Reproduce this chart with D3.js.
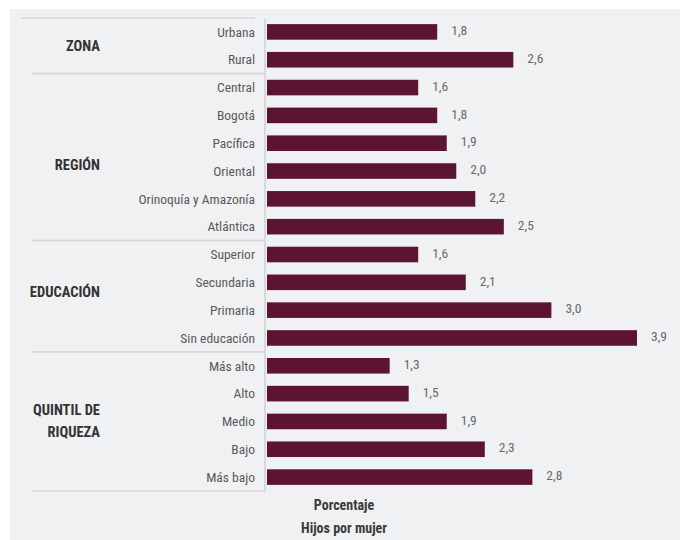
<!DOCTYPE html>
<html>
<head>
<meta charset="utf-8">
<script src="https://cdn.jsdelivr.net/npm/d3@7"></script>
<style>
  html, body { margin: 0; padding: 0; background: #ffffff; }
  svg { display: block; }
  text { font-family: "Liberation Sans Narrow", "Roboto Condensed", "DejaVu Sans Condensed", sans-serif; font-stretch: condensed; }
</style>
</head>
<body>
<svg id="chart" width="680" height="540"></svg>
<script>
const categories = ["Urbana", "Rural", "Central", "Bogotá", "Pacífica", "Oriental", "Orinoquía y Amazonía", "Atlántica",
  "Superior", "Secundaria", "Primaria", "Sin educación",
  "Más alto", "Alto", "Medio", "Bajo", "Más bajo"];
const values = [1.8, 2.6, 1.6, 1.8, 1.9, 2.0, 2.2, 2.5, 1.6, 2.1, 3.0, 3.9, 1.3, 1.5, 1.9, 2.3, 2.8];
const valueLabels = ["1,8", "2,6", "1,6", "1,8", "1,9", "2,0", "2,2", "2,5", "1,6", "2,1", "3,0", "3,9", "1,3", "1,5", "1,9", "2,3", "2,8"];
const groupNames = [["ZONA"], ["REGIÓN"], ["EDUCACIÓN"], ["QUINTIL DE", "RIQUEZA"]];
const groupSizes = [2, 6, 4, 5];
const axisTitle = ["Porcentaje", "Hijos por mujer"];

const svg = d3.select("#chart");

// panel background
svg.append("rect").attr("x", 10).attr("y", 9).attr("width", 670).attr("height", 531).attr("fill", "#f0f1f3");

const y = d3.scaleBand().domain(categories).range([18, 491]).paddingInner(0.44).paddingOuter(0.22);
const x = d3.scaleLinear().domain([0, 3.9]).range([266, 637]);
const step = y.step();
const top0 = 18;

// group separators
let idx = 0;
const bounds = [0];
groupSizes.forEach(s => { idx += s; bounds.push(idx); });
bounds.forEach((b, i) => {
  const yy = top0 + b * (491 - 18) / categories.length;
  svg.append("line")
    .attr("x1", i === 0 ? 21 : 32).attr("x2", i === 0 ? 255 : 266)
    .attr("y1", yy).attr("y2", yy)
    .attr("stroke", "#d6d8db").attr("stroke-width", 1.6);
});

// vertical axis line
svg.append("line").attr("x1", 265).attr("x2", 265).attr("y1", 19).attr("y2", 491)
  .attr("stroke", "#d6d8db").attr("stroke-width", 2);

// bars
svg.append("g").selectAll("rect").data(categories).join("rect")
  .attr("x", x(0) + 1)
  .attr("y", d => y(d))
  .attr("width", (d, i) => x(values[i]) - x(0) - 1)
  .attr("height", y.bandwidth())
  .attr("fill", "#5b1431");

// category labels
svg.append("g").selectAll("text").data(categories).join("text")
  .attr("x", 255)
  .attr("y", d => y(d) + y.bandwidth() / 2)
  .attr("dy", "0.35em")
  .attr("text-anchor", "end")
  .attr("font-size", 13.5)
  .attr("fill", "#5a5a5a")
  .text(d => d);

// value labels
svg.append("g").selectAll("text").data(categories).join("text")
  .attr("x", (d, i) => x(values[i]) + 14)
  .attr("y", d => y(d) + y.bandwidth() / 2 - 1.5)
  .attr("dy", "0.35em")
  .attr("font-size", 13.5)
  .attr("fill", "#6a6a6a")
  .text((d, i) => valueLabels[i]);

// group labels
const groupY = [46, 165, 292, 421];
groupNames.forEach((lines, gi) => {
  const t = svg.append("text")
    .attr("x", 100)
    .attr("text-anchor", "end")
    .attr("font-size", 14.5)
    .attr("font-weight", "bold")
    .attr("fill", "#333333");
  const lh = 22;
  const y0 = groupY[gi] - (lines.length - 1) * lh / 2;
  lines.forEach((l, li) => {
    t.append("tspan").attr("x", 100).attr("y", y0 + li * lh).attr("dy", "0.35em").text(l);
  });
});

// axis title
axisTitle.forEach((l, i) => {
  svg.append("text")
    .attr("x", 344)
    .attr("y", 505 + i * 23)
    .attr("dy", "0.35em")
    .attr("text-anchor", "middle")
    .attr("font-size", 14)
    .attr("font-weight", "bold")
    .attr("fill", "#3a3a3a")
    .text(l);
});
</script>
</body>
</html>
